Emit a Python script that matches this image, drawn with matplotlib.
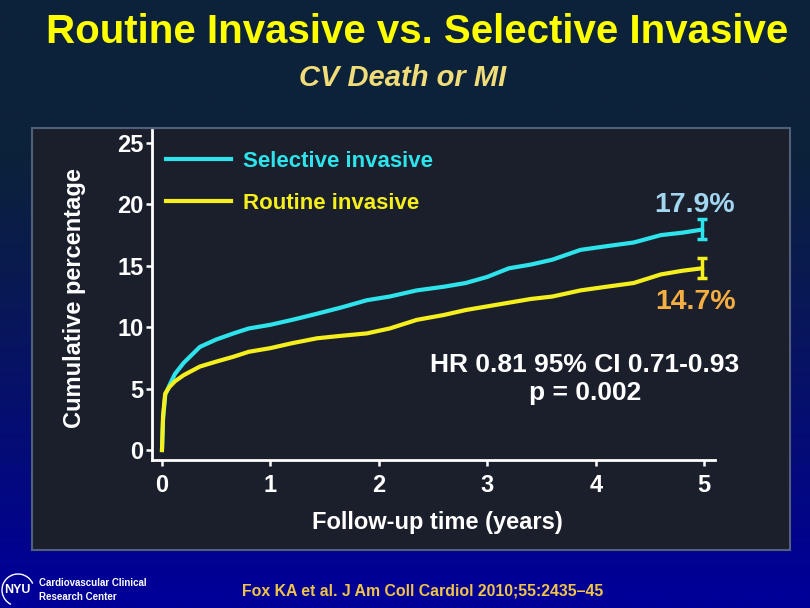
import numpy as np
import matplotlib
matplotlib.use("Agg")
import matplotlib.pyplot as plt
from matplotlib.patches import Rectangle, Arc

plt.rcParams['font.family'] = ['Liberation Sans', 'DejaVu Sans']

# follow-up time (years) and cumulative percentages
years = [0, 0.01, 0.03, 0.07, 0.12, 0.2, 0.35, 0.5, 0.66, 0.8, 1.0, 1.2, 1.43,
         1.65, 1.89, 2.1, 2.35, 2.6, 2.8, 3.0, 3.2, 3.4, 3.6, 3.86, 4.1, 4.35,
         4.6, 4.8, 4.98]
selective = [0, 2.5, 4.5, 5.3, 6.2, 7.1, 8.4, 9.0, 9.5, 9.9, 10.2, 10.6, 11.1,
             11.6, 12.2, 12.5, 13.0, 13.3, 13.6, 14.1, 14.8, 15.1, 15.5, 16.3,
             16.6, 16.9, 17.5, 17.7, 17.95]
routine = [0, 2.8, 4.6, 5.15, 5.6, 6.1, 6.8, 7.2, 7.6, 8.0, 8.3, 8.7, 9.1,
           9.3, 9.5, 9.9, 10.6, 11.0, 11.4, 11.7, 12.0, 12.3, 12.5, 13.0, 13.3,
           13.6, 14.3, 14.6, 14.8]
sel_ci = (17.2, 18.8)
rou_ci = (14.0, 15.6)
sel_label = "17.9%"
rou_label = "14.7%"

CYAN = '#2ee4ec'
YELLOW = '#f6ef1e'

fig = plt.figure(figsize=(8.1, 6.08), dpi=100)

# background gradient: dark navy on top to blue at the bottom
bg = fig.add_axes([0, 0, 1, 1], zorder=-10)
h = 300
t = np.linspace(0, 1, h)
s = np.clip((t - 0.25) / 0.72, 0, 1) ** 1.1
top = np.array([12, 34, 58]) / 255
bot = np.array([0, 0, 152]) / 255
grad = top[None, :] * (1 - s[:, None]) + bot[None, :] * s[:, None]
bg.imshow(grad[:, None, :], aspect='auto', extent=[0, 1, 0, 1])
bg.set_axis_off()

# dark panel behind the plot
fig.patches.append(Rectangle((32 / 810, 1 - 550 / 608), 758 / 810, 422 / 608,
                             transform=fig.transFigure, facecolor='#1a1f2b',
                             edgecolor='#50607a', linewidth=1.5, zorder=-5))

ax = fig.add_axes([152 / 810, 1 - 460 / 608, 563 / 810, 330 / 608])
ax.set_facecolor('none')
ax.plot(years, selective, color=CYAN, lw=3, label='Selective invasive')
ax.plot(years, routine, color=YELLOW, lw=3, label='Routine invasive')

ax.errorbar([years[-1]], [selective[-1]],
            yerr=[[selective[-1] - sel_ci[0]], [sel_ci[1] - selective[-1]]],
            color=CYAN, elinewidth=2.5, capsize=3.5, capthick=2.5, fmt='none')
ax.errorbar([years[-1]], [routine[-1]],
            yerr=[[routine[-1] - rou_ci[0]], [rou_ci[1] - routine[-1]]],
            color=YELLOW, elinewidth=2.5, capsize=3.5, capthick=2.5, fmt='none')

ax.text(4.91, 19.95, sel_label, color='#a2d6f0', fontsize=20.5,
        fontweight='bold', ha='center', va='center')
ax.text(4.92, 12.05, rou_label, color='#f5ae42', fontsize=20.5,
        fontweight='bold', ha='center', va='center')
ax.text(3.90, 5.78, "HR 0.81 95% CI 0.71-0.93\np = 0.002", color='white',
        fontsize=19, fontweight='bold', ha='center', va='center',
        linespacing=1.25)

ax.set_xlim(-0.092, 5.1)
ax.set_ylim(-0.81, 26.06)
ax.set_xticks(range(0, 6))
ax.set_yticks(range(0, 26, 5))
for sp in ['top', 'right']:
    ax.spines[sp].set_visible(False)
for sp in ['left', 'bottom']:
    ax.spines[sp].set_color('white')
    ax.spines[sp].set_linewidth(2)
ax.tick_params(colors='white', length=4, width=1.8, labelsize=17)
ax.tick_params(axis='x', pad=6)
ax.tick_params(axis='y', pad=2)
for lab in ax.get_xticklabels() + ax.get_yticklabels():
    lab.set_fontweight('bold')

ax.set_xlabel('Follow-up time (years)', color='white', fontsize=17,
              fontweight='bold')
ax.xaxis.set_label_coords(0.506, -0.155)
ax.set_ylabel('Cumulative percentage', color='white', fontsize=17,
              fontweight='bold')
ax.yaxis.set_label_coords(-0.118, 0.49)

leg = ax.legend(loc='upper left', bbox_to_anchor=(-0.011, 1.0), frameon=False,
                fontsize=16, handlelength=2.9, handletextpad=0.54,
                labelspacing=0.94, borderaxespad=0.53)
for txt, col in zip(leg.get_texts(), [CYAN, YELLOW]):
    txt.set_color(col)
    txt.set_fontweight('bold')

fig.text(417 / 810, 1 - 32 / 608, 'Routine Invasive vs. Selective Invasive',
         color='#ffff00', fontsize=29, fontweight='bold',
         ha='center', va='center')
fig.text(403 / 810, 1 - 78 / 608, 'CV Death or MI', color='#f0dc78',
         fontsize=21, fontweight='bold', style='italic',
         ha='center', va='center')
fig.text(423 / 810, 1 - 591 / 608, 'Fox KA et al. J Am Coll Cardiol 2010;55:2435\u201345',
         color='#f0c446', fontsize=11.4, fontweight='bold',
         ha='center', va='center')

# NYU logo
fig.text(17 / 810, 1 - 590 / 608, 'NYU', color='white', fontsize=9,
         fontweight='bold', ha='center', va='center')
fig.patches.append(Arc((18 / 810, 1 - 590 / 608), 32 / 810, 32 / 608,
                       theta1=30, theta2=250, color='white', lw=1,
                       transform=fig.transFigure))
fig.text(39 / 810, 1 - 583 / 608, 'Cardiovascular Clinical', color='white',
         fontsize=7, fontweight='bold', va='center')
fig.text(39 / 810, 1 - 597 / 608, 'Research Center', color='white',
         fontsize=7, fontweight='bold', va='center')

fig.savefig('out.png', dpi=100)
